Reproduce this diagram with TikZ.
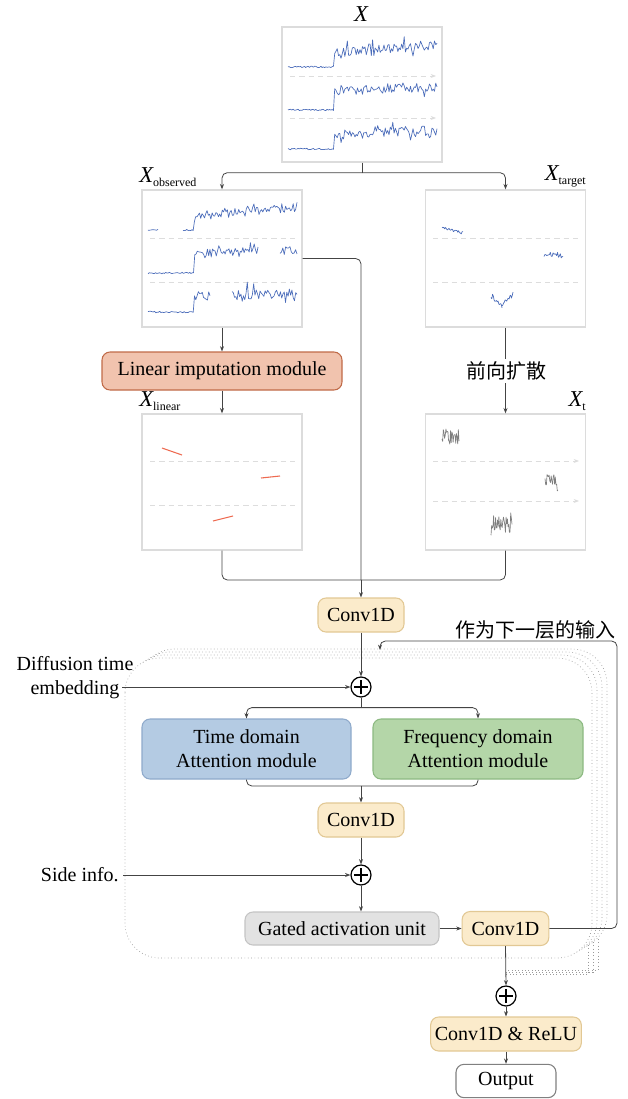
\documentclass[tikz,border=0pt]{standalone}
\usepackage{fontspec}
\setmainfont{Liberation Serif}
\newfontfamily\cjk{Noto Sans CJK SC}
\usetikzlibrary{arrows.meta,calc}

\definecolor{sigblue}{HTML}{4A6CBA}
\definecolor{noisegray}{HTML}{7E7E7E}
\definecolor{interp}{HTML}{EE6A50}
\definecolor{framegray}{HTML}{DCDCDC}
\definecolor{sepgray}{HTML}{DDDDDD}
\definecolor{linegray}{HTML}{444444}
\definecolor{dotgray}{HTML}{9A9A9A}
\definecolor{convfill}{HTML}{FBEBCB}
\definecolor{convdraw}{HTML}{E2C894}
\definecolor{impfill}{HTML}{F1C3AE}
\definecolor{impdraw}{HTML}{C06A48}
\definecolor{timefill}{HTML}{B4CBE3}
\definecolor{timedraw}{HTML}{8FAACB}
\definecolor{freqfill}{HTML}{B4D6A8}
\definecolor{freqdraw}{HTML}{8DBA82}
\definecolor{gatefill}{HTML}{E2E2E2}
\definecolor{gatedraw}{HTML}{C4C4C4}

% series with a level step at x=52 (coordinates relative to a box corner)
\newcommand\stepsig[8]{% ox, oy, from, to, low, step, trend, amp
  \pgfmathtruncatemacro\tsn{max(3,(#4-#3)*0.8)}
  \draw[sigline] plot[domain=#3:#4,samples=\tsn]
    ({#1+\x},{#2+#5-(\x>52)*(#6+#7*(\x-52))+(1+(\x>52)*#8)*0.75*rand+(\x>52)*(rand>0.6)*1.6*#8*rand});
}
% short noisy segment between two levels
\newcommand\noisyseg[9]{% ox, oy, from, to, ystart, yend, amp, style, density
  \pgfmathtruncatemacro\tsn{max(3,(#4-#3)*#9)}
  \draw[#8] plot[domain=#3:#4,samples=\tsn]
    ({#1+\x},{#2+#5+(#6-#5)*(\x-#3)/(#4-#3)+#7*rand});
}
\newcommand\xlab[1]{{\fontsize{17}{17}\selectfont\itshape X}\raisebox{-0.45ex}{\fontsize{9}{9}\selectfont #1}}

\begin{document}
\begin{tikzpicture}[x=0.75pt,y=-0.75pt,
  every node/.style={font=\fontsize{15}{18}\selectfont},
  frame/.style={draw=framegray, line width=1pt, fill=white, inner sep=0},
  conn/.style={draw=linegray, line width=0.6pt, rounded corners=4pt, -{Stealth[length=4pt,width=3pt]}},
  plain/.style={draw=linegray, line width=0.6pt, rounded corners=4pt},
  blk/.style={rounded corners=6pt, line width=0.8pt, inner sep=0, align=center},
  convbox/.style={blk, fill=convfill, draw=convdraw, minimum width=64.5pt, minimum height=25.5pt},
  addop/.style={circle, draw=black, line width=0.9pt, minimum size=15pt, inner sep=0,
    path picture={
      \draw[line width=0.9pt] ([xshift=-5pt]path picture bounding box.center) -- ([xshift=5pt]path picture bounding box.center);
      \draw[line width=0.9pt] ([yshift=-5pt]path picture bounding box.center) -- ([yshift=5pt]path picture bounding box.center);}},
  sep/.style={draw=sepgray, line width=0.6pt, dash pattern=on 4pt off 3pt},
  separr/.style={sep, -{Stealth[length=4pt,width=3pt]}},
  sigline/.style={draw=sigblue, line width=0.5pt, line join=round},
  noiseline/.style={draw=noisegray, line width=0.5pt, line join=round},
  layer/.style={draw=dotgray, dotted, line width=0.5pt, fill=white, rounded corners=26pt},
]
\useasboundingbox (0,0) rectangle (628,1099);
\pgfmathsetseed{11}

% ---------- data panels ----------
\node[frame, minimum width=120pt, minimum height=101.25pt] (topbox) at (362,94.5) {};
\node[frame, minimum width=120pt, minimum height=102.75pt] (obs) at (222,258.5) {};
\node[frame, minimum width=120pt, minimum height=102.75pt] (tgt) at (505.5,258.5) {};
\node[frame, minimum width=120pt, minimum height=102pt] (linbox) at (222,482) {};
\node[frame, minimum width=120pt, minimum height=102pt] (xt) at (505.5,482) {};

\node at (361,14) {\fontsize{17}{17}\selectfont\itshape X};
\node[anchor=south west, inner sep=0] at (139,187) {\xlab{observed}};
\node[anchor=south east, inner sep=0] at (586,187) {\xlab{target}};
\node[anchor=south west, inner sep=0] at (139,411) {\xlab{linear}};
\node[anchor=south east, inner sep=0] at (586,411) {\xlab{t}};

% full series
\draw[separr] (290,76) -- (436,76);
\draw[separr] (290,118) -- (436,118);
\stepsig{282}{27}{6}{155}{40}{14}{0.08}{5}
\stepsig{282}{27}{6}{155}{83}{19}{0.04}{5}
\stepsig{282}{27}{6}{155}{122}{15}{0.03}{6}

% observed part (with gaps)
\draw[sep] (150,238) -- (296,238);
\draw[sep] (150,282) -- (296,282);
\stepsig{142}{190}{6}{16}{40}{14}{0.08}{5}
\stepsig{142}{190}{41}{155}{40}{14}{0.08}{5}
\stepsig{142}{190}{6}{116}{83}{19}{0.04}{5}
\stepsig{142}{190}{138}{155}{83}{19}{0.04}{5}
\stepsig{142}{190}{6}{68}{122}{15}{0.03}{6}
\stepsig{142}{190}{90}{155}{122}{15}{0.03}{6}

% target part
\draw[sep] (433,238) -- (579,238);
\draw[sep] (433,282) -- (579,282);
\noisyseg{425}{190}{17}{38}{37}{43}{1.5}{sigline}{1.2}
\noisyseg{425}{190}{119}{138}{64}{65}{3}{sigline}{1.2}
\noisyseg{425}{190}{66}{77}{105}{115}{3}{sigline}{1.4}
\noisyseg{425}{190}{77}{88}{115}{104}{3}{sigline}{1.4}

% linear imputation of the gaps
\draw[sep] (150,461) -- (296,461);
\draw[sep] (150,505) -- (296,505);
\draw[interp, line width=0.8pt] (162,448) -- (182,455);
\draw[interp, line width=0.8pt] (261,478) -- (280,476);
\draw[interp, line width=0.8pt] (213,521) -- (233,516);

% noised target
\draw[separr] (433,461) -- (579,461);
\draw[separr] (433,501) -- (579,501);
\noisyseg{425}{414}{17}{34}{24}{24}{9}{noiseline}{1.6}
\noisyseg{425}{414}{120}{133}{68}{68}{9}{noiseline}{1.6}
\noisyseg{425}{414}{66}{87}{112}{108}{10}{noiseline}{1.6}

% ---------- upper blocks ----------
\node[blk, fill=impfill, draw=impdraw, minimum width=180pt, minimum height=28.5pt] (imp) at (222,371) {Linear imputation module};
\node[convbox] (c1) at (361,615) {Conv1D};

\draw[plain] (topbox.south) -- ++(0,10) coordinate (tsplit);
\draw[conn] (tsplit) -| (obs.north);
\draw[conn] (tsplit) -| (tgt.north);
\draw[conn] (obs.south) -- (imp.north);
\draw[conn] (imp.south) -- (linbox.north);
\draw[conn] (tgt.south) -- (xt.north);
\node[fill=white, inner sep=2pt] (fwd) at (506,371) {\cjk 前向扩散};
\draw[plain] (obs.east) -| (361,580);
\draw[plain] (linbox.south) |- (361,580);
\draw[plain] (xt.south) |- (361,580) coordinate (m1);
\draw[conn] (m1) -- (c1.north);

% ---------- residual layers ----------
\foreach \k in {3,2,1}
  \draw[layer] ($(125,658)+(5*\k,-3*\k)$) rectangle ($(592,958)+(5*\k,-3*\k)$);
\draw[layer] (125,658) rectangle (592,958);

\node[addop] (p1) at (361,687) {};
\node[blk, fill=timefill, draw=timedraw, minimum width=156.75pt, minimum height=45pt] (tdom) at (246.5,749) {Time domain\\Attention module};
\node[blk, fill=freqfill, draw=freqdraw, minimum width=157.5pt, minimum height=45pt] (fdom) at (478,749) {Frequency domain\\Attention module};
\node[convbox] (c2) at (361,820) {Conv1D};
\node[addop] (p2) at (361,875) {};
\node[blk, fill=gatefill, draw=gatedraw, minimum width=145.5pt, minimum height=24.75pt] (gate) at (342,928.5) {Gated activation unit};
\node[convbox, minimum width=65pt] (c3) at (505.5,928.5) {Conv1D};

\node[align=center, inner sep=0] (dte) at (75,678) {Diffusion time\\embedding};
\coordinate (dtin) at (122,687);
\node[anchor=east, inner sep=0] (side) at (119,875) {Side info.};
\node (nxt) at (535,630) {\cjk 作为下一层的输入};

\draw[conn] (c1.south) -- (p1.north);
\draw[conn] (dtin) -- (p1.west);
\draw[plain] (p1.south) -- ++(0,10) coordinate (asplit);
\draw[conn] (asplit) -| (tdom.north);
\draw[conn] (asplit) -| (fdom.north);
\draw[plain] (tdom.south) |- (361,786);
\draw[plain] (fdom.south) |- (361,786) coordinate (amerge);
\draw[conn] (amerge) -- (c2.north);
\draw[conn] (c2.south) -- (p2.north);
\draw[conn] (side.east) ++(4,0) -- (p2.west);
\draw[conn] (p2.south) -- (p2.south |- gate.north);
\draw[conn] (gate.east) -- (c3.west);
\draw[conn] (c3.east) -- (617,928.5) -- (617,641) -- (380,641) -- (380,650);

% ---------- output path ----------
\node[addop] (p3) at (506,996) {};
\node[convbox, minimum width=113pt] (relu) at (506,1034) {Conv1D \& ReLU};
\node[blk, fill=white, draw=gray, minimum width=75pt, minimum height=25pt] (out) at (506,1081) {Output};

\foreach \k/\yy in {1/974,2/972,3/970}
  \draw[draw=dotgray, dotted, line width=0.5pt] (583+5*\k,948-3*\k) -- (583+5*\k,\yy) -- (506,\yy);
\draw[conn] (c3.south) -- (p3.north);
\draw[conn] (p3.south) -- (relu.north);
\draw[conn] (relu.south) -- (out.north);
\end{tikzpicture}
\end{document}
